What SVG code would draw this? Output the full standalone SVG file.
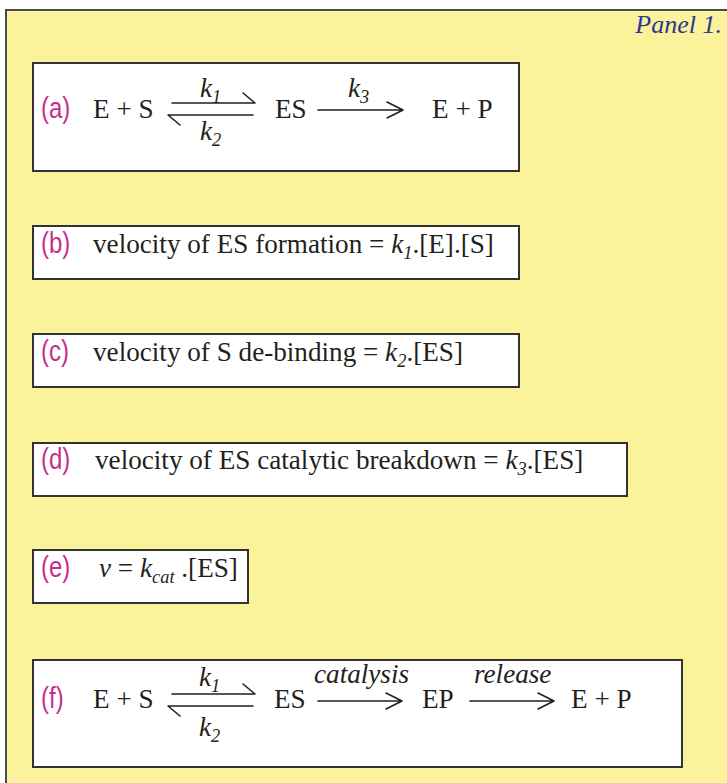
<svg xmlns="http://www.w3.org/2000/svg" width="727" height="783" viewBox="0 0 727 783">
<style>
.panel{fill:#FBF39C;stroke:#4a4a4a;stroke-width:2}
.box{fill:#ffffff;stroke:#333333;stroke-width:2}
.t{font-family:"Liberation Serif","Times New Roman",serif;font-size:28px;fill:#231F20}
.i{font-style:italic}
.sub{font-size:19px;font-style:italic}
.lab{font-family:"Liberation Sans",Arial,sans-serif;font-size:30px;fill:#C62D91}
.title{font-family:"Liberation Serif","Times New Roman",serif;font-size:26px;font-style:italic;fill:#2B3990}
.ln{fill:none;stroke:#231F20;stroke-width:1.6;stroke-linecap:round;stroke-linejoin:round}
</style>
<rect class="panel" x="6" y="10" width="760" height="800"/>
<text class="title" x="722" y="33" text-anchor="end">Panel 1.</text>

<g id="box-a">
<rect class="box" x="33" y="63" width="486" height="108"/>
<text class="lab" transform="translate(41,118) scale(0.8,1)">(a)</text>
<text class="t" transform="translate(93,118) scale(0.97,1)">E + S</text>
<text class="t i" transform="translate(200,97) scale(0.97,1)">k<tspan class="sub" dy="6">1</tspan></text>
<text class="t i" transform="translate(200,140) scale(0.97,1)">k<tspan class="sub" dy="6">2</tspan></text>
<text class="t" transform="translate(275,118) scale(0.97,1)">ES</text>
<text class="t i" transform="translate(348,97) scale(0.97,1)">k<tspan class="sub" dy="6">3</tspan></text>
<text class="t" transform="translate(432,118) scale(0.97,1)">E + P</text>
</g>

<g id="box-b">
<rect class="box" x="33" y="226" width="486" height="53"/>
<text class="lab" transform="translate(41,253) scale(0.8,1)">(b)</text>
<text class="t" transform="translate(93,253) scale(0.97,1)">velocity of ES formation = <tspan class="i">k</tspan><tspan class="sub" dy="6">1</tspan><tspan dy="-6">.[E].[S]</tspan></text>
</g>

<g id="box-c">
<rect class="box" x="33" y="334" width="486" height="53"/>
<text class="lab" transform="translate(41,361) scale(0.8,1)">(c)</text>
<text class="t" transform="translate(93,361) scale(0.97,1)">velocity of S de-binding = <tspan class="i">k</tspan><tspan class="sub" dy="6">2</tspan><tspan dy="-6">.[ES]</tspan></text>
</g>

<g id="box-d">
<rect class="box" x="33" y="443" width="594" height="53"/>
<text class="lab" transform="translate(41,469) scale(0.8,1)">(d)</text>
<text class="t" transform="translate(95,469) scale(0.97,1)">velocity of ES catalytic breakdown = <tspan class="i">k</tspan><tspan class="sub" dy="6">3</tspan><tspan dy="-6">.[ES]</tspan></text>
</g>

<g id="box-e">
<rect class="box" x="33" y="550" width="215" height="53"/>
<text class="lab" transform="translate(41,577) scale(0.8,1)">(e)</text>
<text class="t" transform="translate(99,577) scale(0.97,1)"><tspan class="i">v</tspan> = <tspan class="i">k</tspan><tspan class="sub" dy="6">cat</tspan><tspan dy="-6"> .[ES]</tspan></text>
</g>

<g id="box-f">
<rect class="box" x="33" y="660" width="649" height="107"/>
<text class="lab" transform="translate(41,708) scale(0.8,1)">(f)</text>
<text class="t" transform="translate(93,708) scale(0.97,1)">E + S</text>
<text class="t i" transform="translate(199,686) scale(0.97,1)">k<tspan class="sub" dy="6">1</tspan></text>
<text class="t i" transform="translate(199,736) scale(0.97,1)">k<tspan class="sub" dy="6">2</tspan></text>
<text class="t" transform="translate(274,708) scale(0.97,1)">ES</text>
<text class="t i" transform="translate(314,683) scale(0.97,1)">catalysis</text>
<text class="t" transform="translate(422,708) scale(0.97,1)">EP</text>
<text class="t i" transform="translate(474,683) scale(0.97,1)">release</text>
<text class="t" transform="translate(571,708) scale(0.97,1)">E + P</text>
</g>

<g id="connectors">
<path class="ln" d="M172,103 H255 L243,93"/>
<path class="ln" d="M253,115 H168 L180,125"/>
<path class="ln" d="M318,110 H403 M387,102 L403,110 L387,118"/>
<path class="ln" d="M172,694 H255 L243,684"/>
<path class="ln" d="M253,706 H168 L180,716"/>
<path class="ln" d="M318,701 H402 M386,693 L402,701 L386,709"/>
<path class="ln" d="M470,701 H554 M538,693 L554,701 L538,709"/>
</g>
</svg>
